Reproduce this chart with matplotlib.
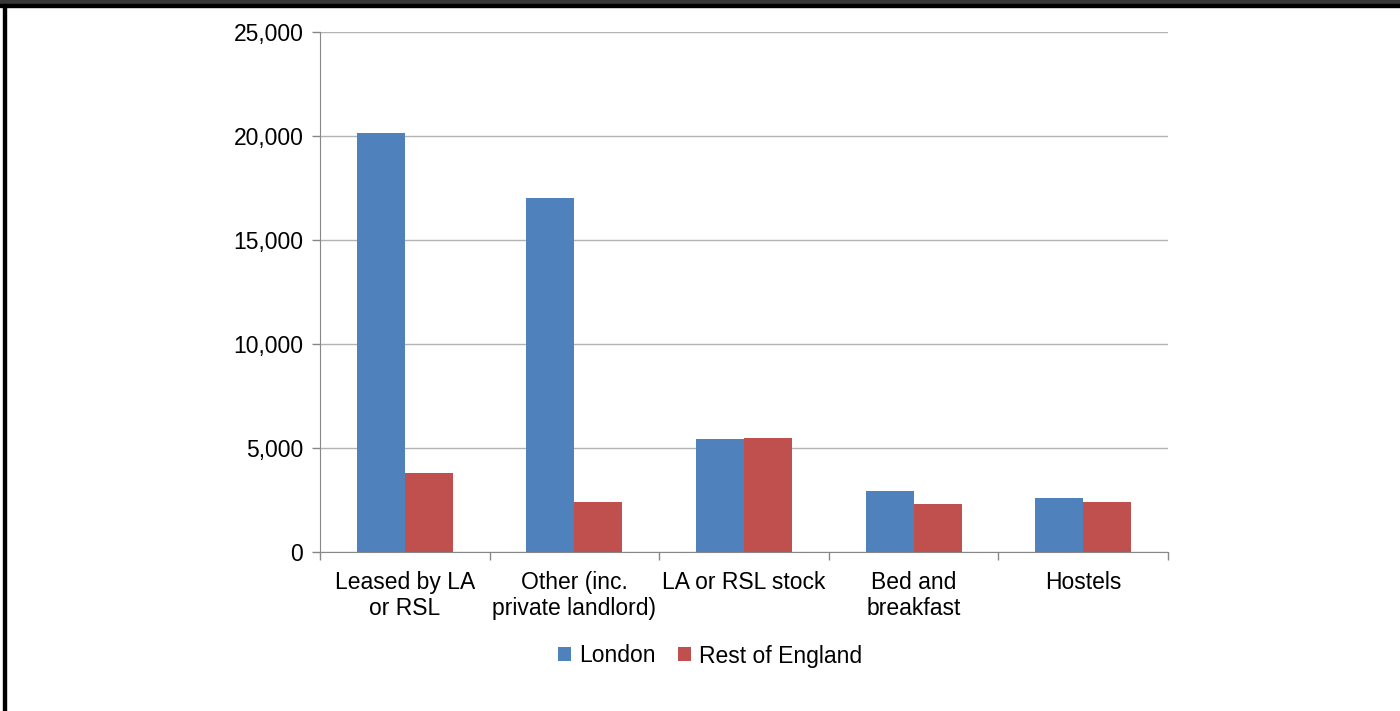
import numpy as np
import matplotlib.pyplot as plt
from matplotlib.patches import Rectangle
from matplotlib.ticker import FuncFormatter

plt.rcParams['font.family'] = ['Liberation Sans', 'DejaVu Sans']

categories = ["Leased by LA\nor RSL", "Other (inc.\nprivate landlord)", "LA or RSL stock",
              "Bed and\nbreakfast", "Hostels"]
london = [20150, 17020, 5430, 2930, 2600]
rest_of_england = [3800, 2400, 5480, 2310, 2400]

blue = "#4f81bd"
red = "#c0504d"
grid_col = "#b3b3b3"
axis_col = "#878787"
fs = 16.5

fig = plt.figure(figsize=(14, 7.11), dpi=100)
ax = fig.add_axes([320 / 1400, 1 - 552 / 711, 848 / 1400, 520 / 711])

x = np.arange(len(categories))
w = 0.283
ax.bar(x - w / 2, london, w, color=blue, label="London", zorder=3)
ax.bar(x + w / 2, rest_of_england, w, color=red, label="Rest of England", zorder=3)

ax.set_xlim(-0.5, len(categories) - 0.5)
ax.set_ylim(0, 25000)
ax.set_yticks(np.arange(0, 25001, 5000))
ax.yaxis.set_major_formatter(FuncFormatter(lambda v, p: f"{int(v):,}"))
ax.grid(axis="y", color=grid_col, linewidth=1, zorder=0)

# category ticks sit between the groups
ax.set_xticks(np.arange(-0.5, len(categories), 1.0))
ax.set_xticklabels([])
ax.set_xticks(x, minor=True)
ax.set_xticklabels(categories, minor=True, fontsize=fs, linespacing=1.2)
ax.tick_params(axis="x", which="minor", length=0, pad=13.5)
ax.tick_params(axis="x", which="major", length=6, color=axis_col, width=1)
ax.tick_params(axis="y", length=6, color=axis_col, width=1, labelsize=fs, pad=6)

for s in ["top", "right"]:
    ax.spines[s].set_visible(False)
ax.spines["left"].set_color(axis_col)
ax.spines["bottom"].set_color(axis_col)

ax.legend(loc="center", bbox_to_anchor=(0.46, -0.2), ncol=2, frameon=False,
          fontsize=fs, handlelength=0.55, handleheight=0.55, handletextpad=0.35,
          columnspacing=1.0)

# frame pieces along the top and left edge
fig.patches.append(Rectangle((0, 1 - 4 / 711), 1, 4 / 711, transform=fig.transFigure,
                             color="#383838", zorder=0))
fig.patches.append(Rectangle((0, 1 - 7 / 711), 1, 3 / 711, transform=fig.transFigure,
                             color="black", zorder=0))
fig.patches.append(Rectangle((3 / 1400, 0), 3 / 1400, 1 - 4 / 711, transform=fig.transFigure,
                             color="black", zorder=0))

fig.savefig("out.png", dpi=100)
